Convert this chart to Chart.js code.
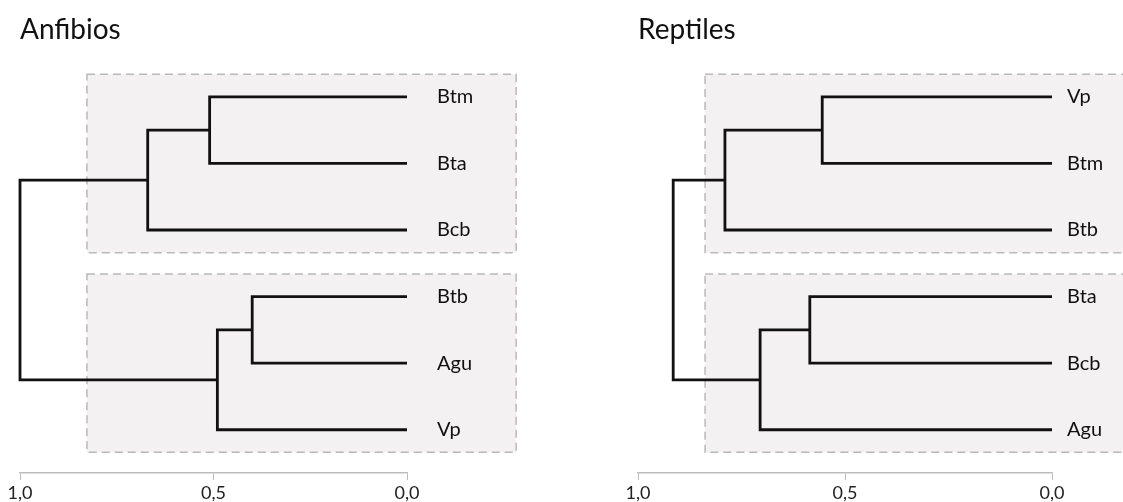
<!DOCTYPE html>
<html>
<head>
<meta charset="utf-8">
<script src="https://cdn.jsdelivr.net/npm/chart.js@4.4.1/dist/chart.umd.min.js"></script>
<style>
  html, body { margin: 0; padding: 0; background: #fff; overflow: hidden; }
  #wrap { position: relative; width: 1123px; height: 502px; overflow: hidden; }
  canvas { position: absolute; top: 0; display: block; }
  #anfibios { left: 0; }
  #reptiles { left: 561px; }
</style>
</head>
<body>
<div id="wrap">
  <canvas id="anfibios" width="561" height="502"></canvas>
  <canvas id="reptiles" width="562" height="502"></canvas>
</div>
<script>
// leaf order top to bottom, merges as [childA, childB] (new nodes numbered after the leaves)
const ANF_LEAVES = ["Btm", "Bta", "Bcb", "Btb", "Agu", "Vp"];
const ANF_MERGES = [[0, 1], [6, 2], [3, 4], [8, 5], [7, 9]];
const ANF_HEIGHTS = [0.51, 0.67, 0.40, 0.49, 1.0];
const ANF_GROUPS = [[0, 2], [3, 5]];

const REP_LEAVES = ["Vp", "Btm", "Btb", "Bta", "Bcb", "Agu"];
const REP_MERGES = [[0, 1], [6, 2], [3, 4], [8, 5], [7, 9]];
const REP_HEIGHTS = [0.555, 0.79, 0.585, 0.705, 0.915];
const REP_GROUPS = [[0, 2], [3, 5]];

const TICK_VALUES = [0, 0.5, 1.0];
const TICK_LABELS = ["0,0", "0,5", "1,0"];

Chart.defaults.font.family = "Lato, 'Open Sans', sans-serif";
Chart.defaults.color = "#111";

function buildLinks(leaves, merges, heights) {
  const nodeY = leaves.map((_, i) => i);
  const nodeH = leaves.map(() => 0);
  const links = [];
  merges.forEach(([a, b], k) => {
    const h = heights[k];
    links.push([
      { x: nodeH[a], y: nodeY[a] },
      { x: h, y: nodeY[a] },
      { x: h, y: nodeY[b] },
      { x: nodeH[b], y: nodeY[b] }
    ]);
    nodeY.push((nodeY[a] + nodeY[b]) / 2);
    nodeH.push(h);
  });
  return links;
}

// shaded dashed boxes behind everything (drawn before the scales so labels stay on top)
const groupBoxes = {
  id: "groupBoxes",
  beforeDraw(chart, args, opts) {
    const { ctx, scales: { x, y } } = chart;
    ctx.save();
    opts.groups.forEach(([first, last]) => {
      const left = x.getPixelForValue(opts.from);
      const right = x.getPixelForValue(opts.to);
      const top = y.getPixelForValue(first - opts.pad);
      const bottom = y.getPixelForValue(last + opts.pad);
      ctx.fillStyle = "#f3f1f2";
      ctx.fillRect(left, top, right - left, bottom - top);
      ctx.setLineDash([8, 5]);
      ctx.strokeStyle = "#b9b9b9";
      ctx.lineWidth = 1.5;
      ctx.strokeRect(left, top, right - left, bottom - top);
    });
    ctx.restore();
  }
};

function buildDendrogram(canvasId, title, leaves, merges, heights, groups, layout) {
  const links = buildLinks(leaves, merges, heights);
  const ctx = document.getElementById(canvasId).getContext("2d");
  new Chart(ctx, {
    type: "line",
    data: {
      datasets: links.map(points => ({
        data: points,
        borderColor: "#111",
        borderWidth: 2.8,
        borderJoinStyle: "miter",
        pointRadius: 0,
        tension: 0,
        fill: false,
        clip: false
      }))
    },
    options: {
      responsive: false,
      animation: false,
      events: [],
      layout: { padding: { left: layout.left, right: 0, top: 0, bottom: 0 } },
      plugins: {
        legend: { display: false },
        tooltip: { enabled: false },
        title: {
          display: true,
          text: title,
          align: "start",
          color: "#111",
          font: { size: 28, weight: "normal" },
          padding: { top: 13, bottom: 17 }
        },
        groupBoxes: { groups, from: layout.boxFrom, to: layout.boxTo, pad: 0.34 }
      },
      scales: {
        x: {
          type: "linear",
          reverse: true,
          min: 0,
          max: 1,
          afterBuildTicks: s => { s.ticks = TICK_VALUES.map(v => ({ value: v })); },
          afterFit: s => { s.height = 29; },
          grid: { display: true, drawOnChartArea: false, drawTicks: true, tickLength: 7, color: "#bdbdbd" },
          border: { display: true, color: "#bdbdbd", width: 1.5 },
          ticks: {
            padding: 2,
            color: "#222",
            maxRotation: 0,
            font: { size: 18 },
            callback: (v, i) => TICK_LABELS[i]
          }
        },
        y: {
          type: "linear",
          position: "right",
          reverse: true,
          min: -0.5,
          max: 5.65,
          afterBuildTicks: s => { s.ticks = leaves.map((_, i) => ({ value: i })); },
          afterFit: s => {
            s.width = layout.labelWidth;
            // the label gap must not push the plot area up from the bottom axis
            s.paddingTop = 0;
            s.paddingBottom = 0;
          },
          grid: { display: false, drawTicks: false },
          border: { display: false },
          ticks: {
            autoSkip: false,
            padding: layout.labelGap,
            color: "#111",
            font: { size: 20 },
            callback: v => leaves[v]
          }
        }
      }
    },
    plugins: [groupBoxes]
  });
}

buildDendrogram("anfibios", "Anfibios", ANF_LEAVES, ANF_MERGES, ANF_HEIGHTS, ANF_GROUPS,
  { left: 20, labelWidth: 154, labelGap: 30, boxFrom: 0.827, boxTo: -0.282 });
buildDendrogram("reptiles", "Reptiles", REP_LEAVES, REP_MERGES, REP_HEIGHTS, REP_GROUPS,
  { left: 77, labelWidth: 71, labelGap: 15, boxFrom: 0.838, boxTo: -0.25 });
</script>
</body>
</html>
